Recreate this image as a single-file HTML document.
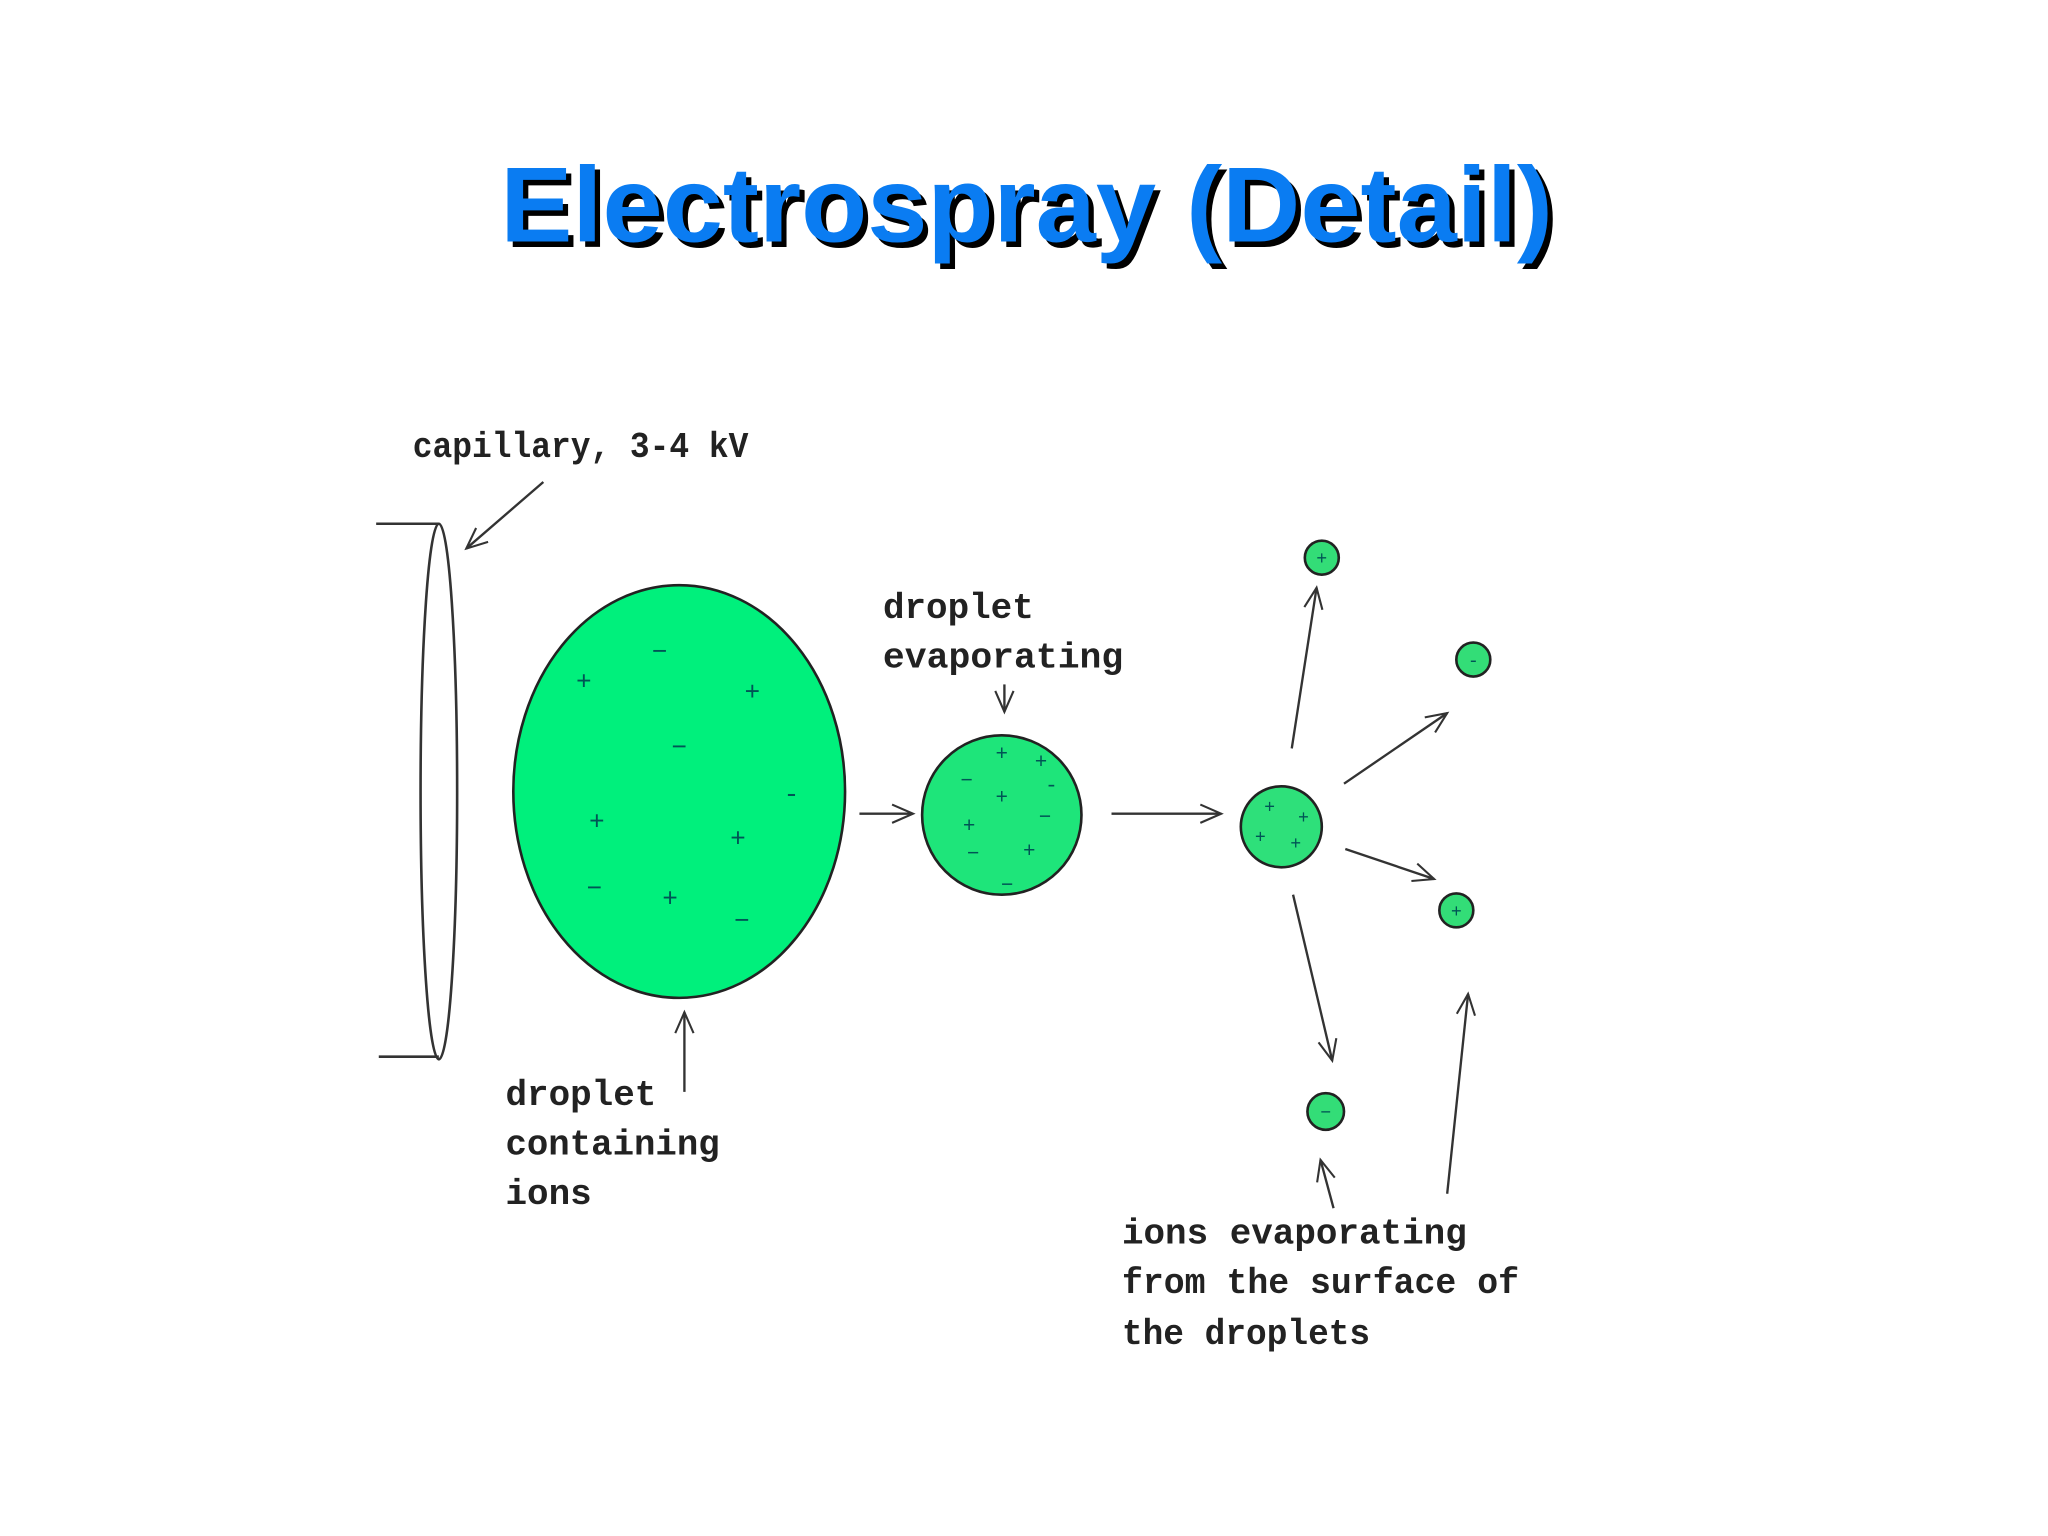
<!DOCTYPE html>
<html><head><meta charset="utf-8"><style>
html,body{margin:0;padding:0;background:#fff;}
svg{display:block;}
</style></head><body>
<svg width="2048" height="1536" viewBox="0 0 1568 1176" xmlns="http://www.w3.org/2000/svg">
<defs>
<marker id="a" viewBox="0 0 20 20" refX="18" refY="10" markerWidth="20" markerHeight="20" markerUnits="userSpaceOnUse" orient="auto">
<path d="M2,3 L18,10 L2,17" fill="none" stroke="#333" stroke-width="1.6"/>
</marker>
</defs>
<rect width="1568" height="1176" fill="#fff"/>
<g font-family="Liberation Sans, sans-serif" font-weight="bold" font-size="82" text-anchor="middle">
<text x="790" y="189" fill="#000" textLength="806" lengthAdjust="spacingAndGlyphs">Electrospray (Detail)</text>
<text x="786" y="185" fill="#0a7cf2" textLength="806" lengthAdjust="spacingAndGlyphs">Electrospray (Detail)</text>
</g>
<g stroke="#333" stroke-width="2" fill="none">
<ellipse cx="336" cy="606" rx="14" ry="205"/>
<line x1="288" y1="401" x2="336" y2="401"/>
<line x1="290" y1="809" x2="336" y2="809"/>
</g>
<g stroke="#222" stroke-width="2">
<ellipse cx="520" cy="606" rx="127" ry="158" fill="#00f07c"/>
<circle cx="767" cy="624" r="61" fill="#1ee57a"/>
<circle cx="981" cy="633" r="31" fill="#2ee07a"/>
<circle cx="1012" cy="427" r="13" fill="#33dd77"/>
<circle cx="1128" cy="505" r="13" fill="#33dd77"/>
<circle cx="1115" cy="697" r="13" fill="#33dd77"/>
<circle cx="1015" cy="851" r="14" fill="#33dd77"/>
</g>
<g font-family="Liberation Mono, monospace" font-size="20" fill="#055" text-anchor="middle">
<text x="447" y="528">+</text><text x="505" y="505">−</text><text x="576" y="536">+</text>
<text x="520" y="578">−</text><text x="606" y="614">-</text><text x="457" y="635">+</text>
<text x="565" y="648">+</text><text x="455" y="686">−</text><text x="513" y="694">+</text><text x="568" y="711">−</text>
<text x="767" y="582" font-size="16">+</text><text x="797" y="588" font-size="16">+</text>
<text x="740" y="602" font-size="16">−</text><text x="767" y="615" font-size="16">+</text>
<text x="805" y="606" font-size="16">-</text><text x="800" y="630" font-size="16">−</text>
<text x="742" y="637" font-size="16">+</text><text x="745" y="658" font-size="16">−</text>
<text x="788" y="656" font-size="16">+</text><text x="771" y="682" font-size="16">−</text>
<text x="972" y="622" font-size="14">+</text><text x="998" y="630" font-size="14">+</text>
<text x="965" y="645" font-size="14">+</text><text x="992" y="650" font-size="14">+</text>
<text x="1012" y="432" font-size="14">+</text><text x="1128" y="510" font-size="14">-</text>
<text x="1115" y="702" font-size="14">+</text><text x="1015" y="856" font-size="14">−</text>
</g>
<g stroke="#333" stroke-width="1.8" marker-end="url(#a)">
<line x1="416" y1="369" x2="357" y2="420"/>
<line x1="658" y1="623" x2="699" y2="623"/>
<line x1="851" y1="623" x2="935" y2="623"/>
<line x1="769" y1="524" x2="769" y2="545"/>
<line x1="524" y1="836" x2="524" y2="775"/>
<line x1="989" y1="573" x2="1008" y2="450"/>
<line x1="1029" y1="600" x2="1108" y2="546"/>
<line x1="1030" y1="650" x2="1098" y2="673"/>
<line x1="990" y1="685" x2="1020" y2="812"/>
<line x1="1021" y1="925" x2="1011" y2="888"/>
<line x1="1108" y1="914" x2="1124" y2="761"/>
</g>
<g font-family="Liberation Mono, monospace" font-weight="bold" font-size="27.5" fill="#222" lengthAdjust="spacingAndGlyphs">
<text x="316" y="350" textLength="257" lengthAdjust="spacingAndGlyphs">capillary, 3-4 kV</text>
<text x="676" y="473">droplet</text>
<text x="676" y="511" textLength="184" lengthAdjust="spacingAndGlyphs">evaporating</text>
<text x="387" y="846">droplet</text>
<text x="387" y="884" textLength="164" lengthAdjust="spacingAndGlyphs">containing</text>
<text x="387" y="922">ions</text>
<text x="859" y="952" textLength="264" lengthAdjust="spacingAndGlyphs">ions evaporating</text>
<text x="859" y="990" textLength="304" lengthAdjust="spacingAndGlyphs">from the surface of</text>
<text x="859" y="1029" textLength="190" lengthAdjust="spacingAndGlyphs">the droplets</text>
</g>
</svg>
</body></html>
